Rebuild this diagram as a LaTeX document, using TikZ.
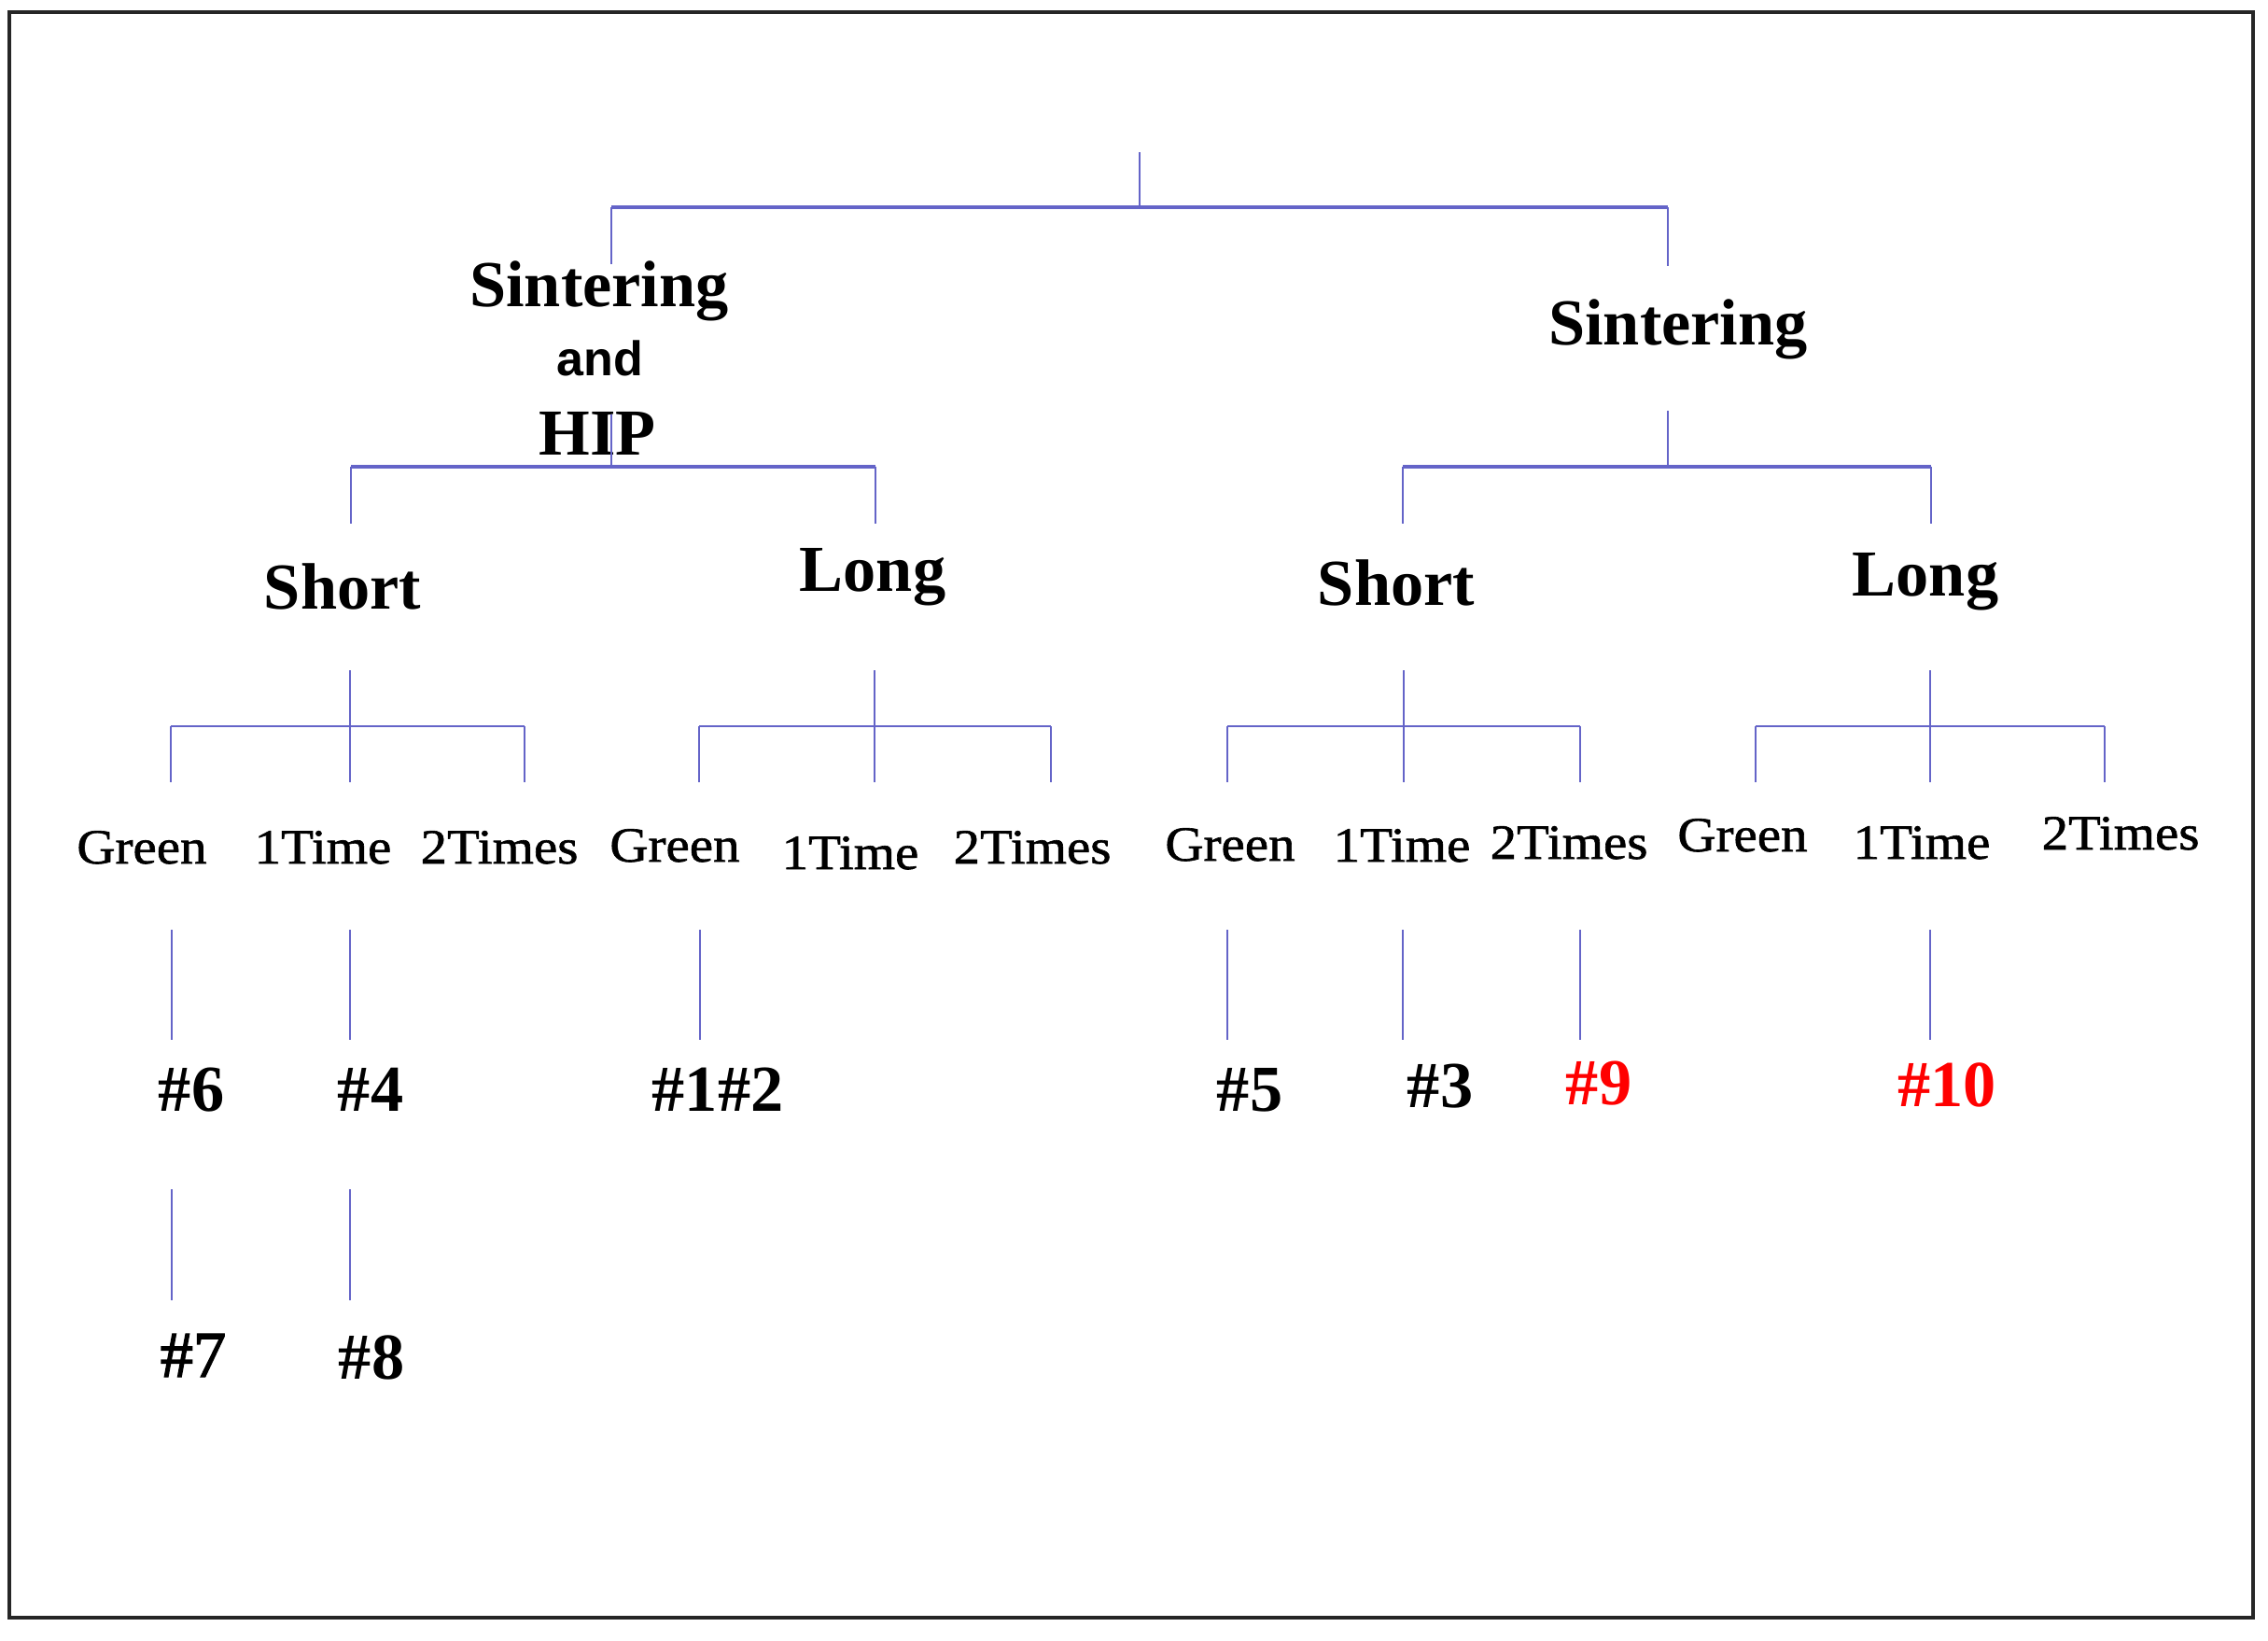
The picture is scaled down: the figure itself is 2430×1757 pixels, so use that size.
\documentclass[tikz,border=0pt]{standalone}
\usepackage{fontspec}
\setmainfont{Liberation Serif}
\newfontfamily\catfont[FakeStretch=1.08,FakeBold=1.2]{Liberation Serif}
\newfontfamily\semifont[FakeBold=2]{Liberation Serif}
\newfontfamily\andfont{Liberation Sans}
\definecolor{treeblue}{RGB}{100,100,200}
\definecolor{hotred}{RGB}{255,0,0}
\begin{document}
\begin{tikzpicture}[x=0.01cm,y=-0.01cm,
  big/.style={anchor=base,inner sep=0pt,font=\fontsize{20}{24}\selectfont\bfseries},
  andlbl/.style={anchor=base,inner sep=0pt,font=\andfont\fontsize{14.8}{18}\selectfont\bfseries},
  cat/.style={anchor=base,inner sep=0pt,font=\catfont\fontsize{15}{18}\selectfont},
  num/.style={anchor=base,inner sep=0pt,font=\fontsize{20}{24}\selectfont\bfseries},
  numreg/.style={anchor=base,inner sep=0pt,font=\semifont\fontsize{20}{24}\selectfont},
  hot/.style={num,text=hotred},
  bar/.style={draw=treeblue,line width=1.1pt},
  stem/.style={draw=treeblue,line width=0.6pt},
  framebox/.style={draw=black!85,line width=1.2pt}]
\useasboundingbox (0,0) rectangle (2430,1757);
\draw[framebox] (10,13) rectangle (2414,1733);

% ---- labels ----
\node[big] (sl) at (642,328) {Sintering};
\node[andlbl] (and) at (643,402) {and};
\node[big] (hip) at (640,487) {HIP};
\node[big] (sr) at (1798,369) {Sintering};
\node[big] (ls) at (367,652) {Short};
\node[big] (ll) at (935,633) {Long};
\node[big] (rs) at (1496,648) {Short};
\node[big] (rl) at (2063,638) {Long};

\node[cat] (a1) at (152,925) {Green};
\node[cat] (a2) at (346,925) {1Time};
\node[cat] (a3) at (535,925) {2Times};
\node[cat] (b1) at (723,923) {Green};
\node[cat] (b2) at (911,931) {1Time};
\node[cat] (b3) at (1106,925) {2Times};
\node[cat] (c1) at (1318,922) {Green};
\node[cat] (c2) at (1502,923) {1Time};
\node[cat] (c3) at (1681,920) {2Times};
\node[cat] (d1) at (1867,912) {Green};
\node[cat] (d2) at (2059,920) {1Time};
\node[cat] (d3) at (2272,910) {2Times};

\node[num] (n6) at (205,1190) {\#6};
\node[num] (n4) at (397,1190) {\#4};
\node[num] (n12) at (769,1190) {\#1\#2};
\node[num] (n5) at (1339,1190) {\#5};
\node[num] (n3) at (1543,1186) {\#3};
\node[hot] (n9) at (1713,1183) {\#9};
\node[hot] (n10) at (2086,1185) {\#10};
\node[numreg] (n7) at (207,1475) {\#7};
\node[num] (n8) at (398,1477) {\#8};

% ---- level 1 ----
\coordinate (root) at (1221,163);
\coordinate (j0) at (1221,222);
\coordinate (j0l) at (655,222);
\coordinate (j0r) at (1787,222);
\coordinate (t0l) at (655,283);
\coordinate (t0r) at (1787,285);
\draw[stem] (root) -- (j0);
\draw[bar] (j0l) -- (j0r);
\draw[stem] (j0l) -- (t0l);
\draw[stem] (j0r) -- (t0r);

% ---- level 2 ----
\coordinate (s1l) at (655,444);  \coordinate (j1l) at (655,500);
\coordinate (s1r) at (1787,440); \coordinate (j1r) at (1787,500);
\draw[stem] (s1l) -- (j1l);
\draw[stem] (s1r) -- (j1r);
\foreach \a/\b in {376/938,1503/2069}{
  \coordinate (bl) at (\a,500); \coordinate (br) at (\b,500);
  \coordinate (bld) at (\a,561); \coordinate (brd) at (\b,561);
  \draw[bar] (bl) -- (br);
  \draw[stem] (bl) -- (bld);
  \draw[stem] (br) -- (brd);
}

% ---- level 3 ----
\foreach \c/\l/\r in {375/183/562,937/749/1126,1504/1315/1693,2068/1881/2255}{
  \coordinate (ct) at (\c,718); \coordinate (cb) at (\c,838);
  \coordinate (lt) at (\l,778); \coordinate (lb) at (\l,838);
  \coordinate (rt) at (\r,778); \coordinate (rb) at (\r,838);
  \draw[stem] (ct) -- (cb);
  \draw[stem,line width=0.75pt] (lt) -- (rt);
  \draw[stem] (lt) -- (lb);
  \draw[stem] (rt) -- (rb);
}

% ---- level 4 ----
\foreach \x in {184,375,750,1315,1503,1693,2068}{
  \coordinate (ut) at (\x,996); \coordinate (ub) at (\x,1114);
  \draw[stem] (ut) -- (ub);
}

% ---- level 5 ----
\foreach \x in {184,375}{
  \coordinate (vt) at (\x,1274); \coordinate (vb) at (\x,1393);
  \draw[stem] (vt) -- (vb);
}
\end{tikzpicture}
\end{document}
